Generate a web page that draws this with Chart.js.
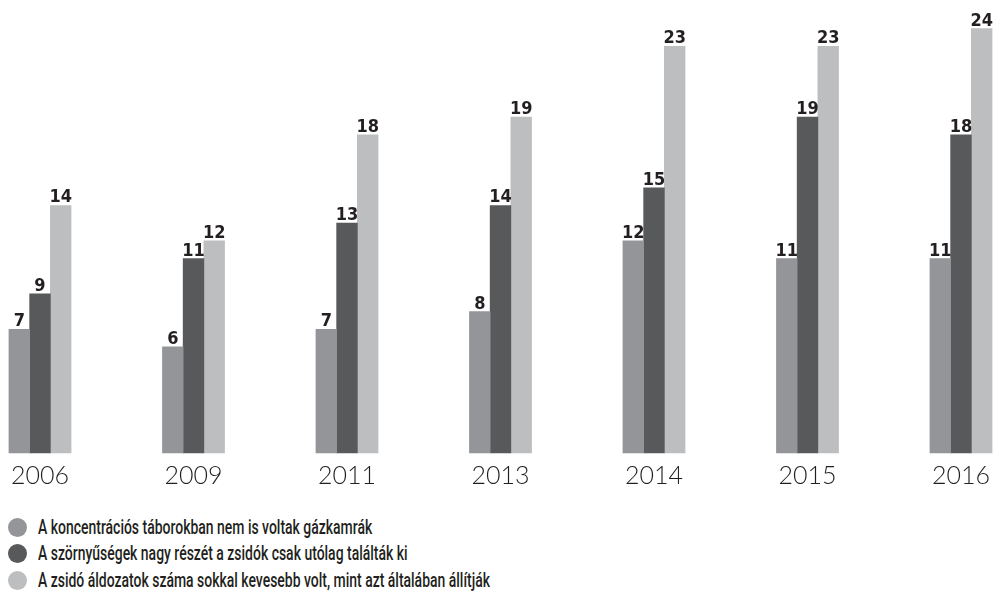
<!DOCTYPE html>
<html>
<head>
<meta charset="utf-8">
<script src="https://cdn.jsdelivr.net/npm/chart.js@4/dist/chart.umd.min.js"></script>
<style>
  html, body { margin: 0; padding: 0; background: #fff; }
  #wrap { position: relative; width: 993px; height: 592px; overflow: hidden; }
  #c { position: absolute; left: 0; top: 0; }
  #legend { position: absolute; left: 8px; top: 514px; }
  .row { display: flex; align-items: center; height: 26.5px; }
  .dot { width: 19px; height: 19px; border-radius: 50%; margin-right: 11px; flex: none; }
  .txt { display: inline-block; font-family: Roboto, "DejaVu Sans Condensed", sans-serif; font-weight: 500; font-size: 19.5px; color: #231f20; white-space: nowrap; transform-origin: 0 50%; }
</style>
</head>
<body>
<div id="wrap">
  <canvas id="c" width="993" height="499" style="width:993px;height:499px"></canvas>
  <div id="legend"></div>
</div>
<script>
const years = ["2006", "2009", "2011", "2013", "2014", "2015", "2016"];
const seriesNames = [
  "A koncentrációs táborokban nem is voltak gázkamrák",
  "A szörnyűségek nagy részét a zsidók csak utólag találták ki",
  "A zsidó áldozatok száma sokkal kevesebb volt, mint azt általában állítják"
];
const noGasChambers = [7, 6, 7, 8, 12, 11, 11];
const inventedLater = [9, 11, 13, 14, 15, 19, 18];
const fewerVictims = [14, 12, 18, 19, 23, 23, 24];
const colors = ["#939598", "#58595b", "#bcbec0"];

const valueLabels = {
  id: 'valueLabels',
  afterDatasetsDraw(chart) {
    const ctx = chart.ctx;
    ctx.save();
    ctx.font = 'bold 18px "DejaVu Sans Condensed", "Liberation Sans Narrow", sans-serif';
    ctx.fillStyle = '#231f20';
    ctx.textAlign = 'center';
    ctx.textBaseline = 'alphabetic';
    chart.data.datasets.forEach((ds, di) => {
      const meta = chart.getDatasetMeta(di);
      meta.data.forEach((el, i) => {
        ctx.fillText(String(ds.data[i]), el.x, el.y - 3);
      });
    });
    ctx.restore();
  }
};

const dataSets = [noGasChambers, inventedLater, fewerVictims].map((d, i) => ({
  label: seriesNames[i],
  data: d,
  backgroundColor: colors[i],
  borderWidth: 0,
  barThickness: 20.7,
  clip: false
}));

new Chart(document.getElementById('c'), {
  type: 'bar',
  data: { labels: years, datasets: dataSets },
  options: {
    responsive: false,
    animation: false,
    layout: { padding: { left: 40, right: 32, top: 11, bottom: 0 } },
    plugins: { legend: { display: false }, tooltip: { enabled: false } },
    scales: {
      x: {
        offset: false,
        grid: { display: false, drawTicks: false },
        border: { display: false },
        afterFit(scale) { scale.paddingLeft = 0; scale.paddingRight = 0; },
        ticks: {
          padding: 8,
          color: '#231f20',
          font: { family: 'Lato, "DejaVu Sans", sans-serif', size: 25, weight: 300 },
          maxRotation: 0,
          autoSkip: false
        }
      },
      y: {
        display: false,
        min: 0,
        max: 25
      }
    }
  },
  plugins: [valueLabels]
});

const lg = document.getElementById('legend');
const txts = [];
seriesNames.forEach((name, i) => {
  const row = document.createElement('div');
  row.className = 'row';
  const dot = document.createElement('span');
  dot.className = 'dot';
  dot.style.background = colors[i];
  const t = document.createElement('span');
  t.className = 'txt';
  t.textContent = name;
  row.appendChild(dot);
  row.appendChild(t);
  lg.appendChild(row);
  txts.push(t);
});
// condense legend text to the reference's narrow face
const targetWidth = 452;
const natural = txts[2].getBoundingClientRect().width;
const sx = targetWidth / natural;
txts.forEach(t => { t.style.transform = 'scaleX(' + sx + ')'; });
</script>
</body>
</html>
